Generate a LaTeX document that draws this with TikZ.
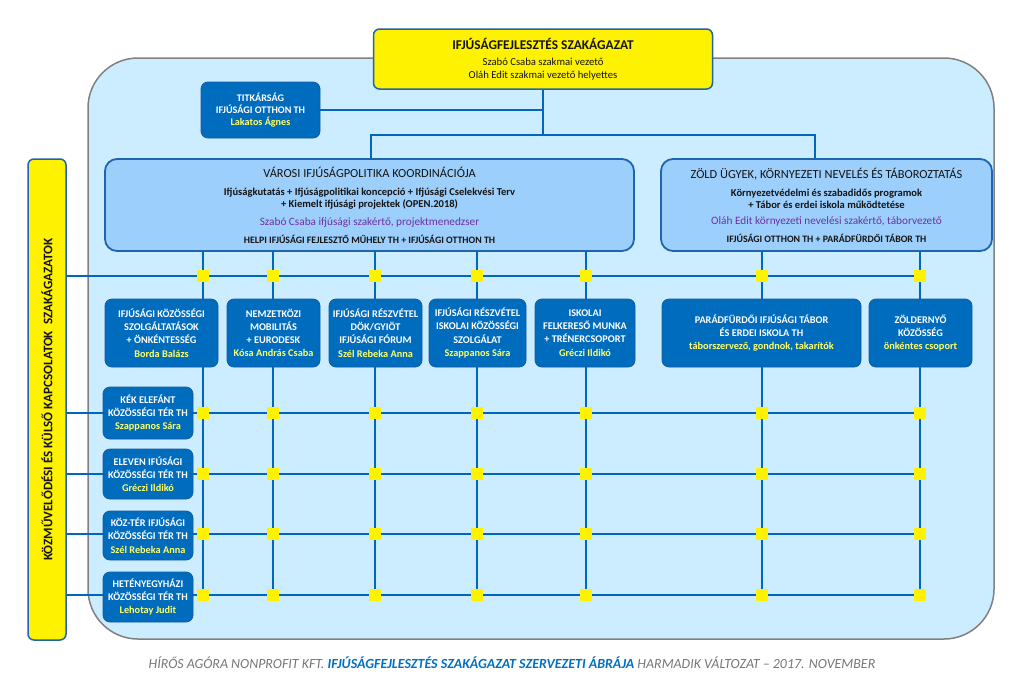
\documentclass[tikz,border=0pt]{standalone}
\usepackage{fontspec}
\setmainfont{Carlito}
\usepackage{tikz}

\newlength\px
\setlength\px{0.025cm}

\definecolor{bgblue}{RGB}{204,236,255}
\definecolor{bggray}{RGB}{128,128,128}
\definecolor{groupfill}{RGB}{157,207,252}
\definecolor{edgeblue}{RGB}{30,100,175}
\definecolor{unitblue}{RGB}{0,108,190}
\definecolor{unitedge}{RGB}{20,90,160}
\definecolor{lineblue}{RGB}{0,102,190}
\definecolor{purpletext}{RGB}{112,48,160}
\definecolor{nameyellow}{RGB}{255,255,102}
\definecolor{captiongray}{RGB}{118,118,118}
\definecolor{captionblue}{RGB}{0,112,192}
\definecolor{darktext}{RGB}{20,20,20}

\newcommand{\who}[1]{\textcolor{nameyellow}{#1}}

\tikzstyle{headbox} = [rectangle, rounded corners=6\px, draw=edgeblue,
line width=1.5\px, fill=yellow, align=center, inner sep=0pt, text=darktext]
\tikzstyle{groupbox} = [rectangle, rounded corners=12\px, draw=edgeblue,
line width=1.8\px, fill=groupfill, align=center, inner sep=0pt, text=darktext,
font=\fontsize{7.5}{8.5}\selectfont]
\tikzstyle{unitbox} = [rectangle, rounded corners=7\px, draw=unitedge,
line width=0.8\px, fill=unitblue, text=white, align=center, inner sep=0pt,
font=\bfseries\fontsize{7.3}{9.4}\selectfont]
\tikzstyle{joint} = [rectangle, fill=yellow, minimum size=12\px, inner sep=0pt]
\tikzstyle{link} = [draw=lineblue, line width=2.8\px]

\begin{document}
\begin{tikzpicture}[x=0.025cm, y=-0.025cm]
\useasboundingbox (0,0) rectangle (1024,699);

% panel
\draw[fill=bgblue, draw=bggray, line width=1.5\px, rounded corners=50\px]
(88,58) rectangle (994,639);

% grid points
\foreach \x [count=\c] in {203,273,375,477,586,762,920}
  \foreach \y [count=\r] in {276,413,474,534,595}
    \coordinate (p\c-\r) at (\x,\y);

\node(top)[headbox, minimum width=339\px, minimum height=60\px,
font=\fontsize{7.6}{9.2}\selectfont] at (543,59)
{{\fontsize{9.5}{10}\selectfont\bfseries IFJÚSÁGFEJLESZTÉS SZAKÁGAZAT}\\[2.5pt]
Szabó Csaba szakmai vezető\\Oláh Edit szakmai vezető helyettes};
\node(titk)[unitbox, minimum width=119\px, minimum height=56\px, font=\bfseries\fontsize{7.2}{8.4}\selectfont] at (260.5,110)
{TITKÁRSÁG\\IFJÚSÁGI OTTHON TH\\\who{Lakatos Ágnes}};

\node(varosi)[groupbox, minimum width=529\px, minimum height=92\px] at (369.5,205)
{{\fontsize{8.8}{9}\selectfont VÁROSI IFJÚSÁGPOLITIKA KOORDINÁCIÓJA}\\[4.3pt]
{\bfseries Ifjúságkutatás + Ifjúságpolitikai koncepció + Ifjúsági Cselekvési Terv}\\
{\bfseries + Kiemelt ifjúsági projektek (OPEN.2018)}\\[4.3pt]
{\color{purpletext}\fontsize{8}{9}\selectfont Szabó Csaba ifjúsági szakértő, projektmenedzser}\\[4.3pt]
{\bfseries\fontsize{7}{8.5}\selectfont HELPI IFJÚSÁGI FEJLESZTŐ MŰHELY TH + IFJÚSÁGI OTTHON TH}};
\node(zold)[groupbox, minimum width=331\px, minimum height=92\px] at (826.5,205)
{{\fontsize{8.8}{9}\selectfont ZÖLD ÜGYEK, KÖRNYEZETI NEVELÉS ÉS TÁBOROZTATÁS}\\[4.3pt]
{\bfseries Környezetvédelmi és szabadidős programok}\\
{\bfseries + Tábor és erdei iskola működtetése}\\[3pt]
{\color{purpletext}\fontsize{8}{9}\selectfont Oláh Edit környezeti nevelési szakértő, táborvezető}\\[4.3pt]
{\bfseries\fontsize{7}{8.5}\selectfont IFJÚSÁGI OTTHON TH + PARÁDFÜRDŐI TÁBOR TH}};

\node(side)[headbox, rotate=90, minimum width=481\px, minimum height=38\px,
font=\bfseries\fontsize{9.3}{10}\selectfont] at (47,399.5)
{KÖZMŰVELŐDÉSI ÉS KÜLSŐ KAPCSOLATOK\ \ SZAKÁGAZATOK};

% upper links
\coordinate(fork) at (543,135);
\coordinate(forkl) at (371,135);
\coordinate(forkr) at (815,135);
\draw[link, line width=2\px](top.south) -- (fork);
\draw[link, line width=2\px](titk.east) -- (titk.east -| fork);
\draw[link, line width=2\px](varosi.north -| forkl) -- (forkl) -- (forkr)
-- (zold.north -| forkr);

% grid
\foreach \c/\g in {1/varosi,2/varosi,3/varosi,4/varosi,5/varosi,6/zold,7/zold}
  \draw[link](\g.south -| p\c-1) -- (p\c-5);
\foreach \r in {1,...,5}
  \draw[link](side.south |- p1-\r) -- (p7-\r);

% units
\node(u1)[unitbox, minimum width=113\px, minimum height=68\px] at (161.5,333)
{IFJÚSÁGI KÖZÖSSÉGI\\SZOLGÁLTATÁSOK\\+ ÖNKÉNTESSÉG\\\who{Borda Balázs}};
\node(u2)[unitbox, minimum width=93\px, minimum height=68\px] at (273.5,333)
{NEMZETKÖZI\\MOBILITÁS\\+ EURODESK\\\who{Kósa András Csaba}};
\node(u3)[unitbox, minimum width=93\px, minimum height=68\px] at (375.5,333)
{IFJÚSÁGI RÉSZVÉTEL\\DÖK/GYIÖT\\IFJÚSÁGI FÓRUM\\\who{Szél Rebeka Anna}};
\node(u4)[unitbox, minimum width=97\px, minimum height=68\px] at (477.5,333)
{IFJÚSÁGI RÉSZVÉTEL\\ISKOLAI KÖZÖSSÉGI\\SZOLGÁLAT\\\who{Szappanos Sára}};
\node(u5)[unitbox, minimum width=100\px, minimum height=68\px] at (585,333)
{ISKOLAI\\FELKERESŐ MUNKA\\+ TRÉNERCSOPORT\\\who{Gréczi Ildikó}};
\node(u6)[unitbox, minimum width=199\px, minimum height=68\px] at (761.5,333)
{PARÁDFÜRDŐI IFJÚSÁGI TÁBOR\\ÉS ERDEI ISKOLA TH\\\who{táborszervező, gondnok, takarítók}};
\node(u7)[unitbox, minimum width=103\px, minimum height=68\px] at (920.5,333)
{ZÖLDERNYŐ\\KÖZÖSSÉG\\\who{önkéntes csoport}};

% community spaces
\node(t1)[unitbox, minimum width=90\px, minimum height=52\px] at (148,413)
{KÉK ELEFÁNT\\KÖZÖSSÉGI TÉR TH\\\who{Szappanos Sára}};
\node(t2)[unitbox, minimum width=90\px, minimum height=50\px] at (148,474)
{ELEVEN IFÚSÁGI\\KÖZÖSSÉGI TÉR TH\\\who{Gréczi Ildikó}};
\node(t3)[unitbox, minimum width=90\px, minimum height=49\px] at (148,535.5)
{KÖZ-TÉR IFJÚSÁGI\\KÖZÖSSÉGI TÉR TH\\\who{Szél Rebeka Anna}};
\node(t4)[unitbox, minimum width=90\px, minimum height=50\px] at (148,597)
{HETÉNYEGYHÁZI\\KÖZÖSSÉGI TÉR TH\\\who{Lehotay Judit}};

% joints
\foreach \c in {1,...,7}
  \foreach \r in {1,...,5}
    \node(j\c-\r)[joint] at (p\c-\r) {};

\node(caption)[font=\itshape\fontsize{9.9}{11}\selectfont, text=captiongray] at (512,663)
{HÍRŐS AGÓRA NONPROFIT KFT. {\color{captionblue}\bfseries IFJÚSÁGFEJLESZTÉS SZAKÁGAZAT SZERVEZETI ÁBRÁJA} HARMADIK VÁLTOZAT -- 2017. NOVEMBER};

\end{tikzpicture}
\end{document}
